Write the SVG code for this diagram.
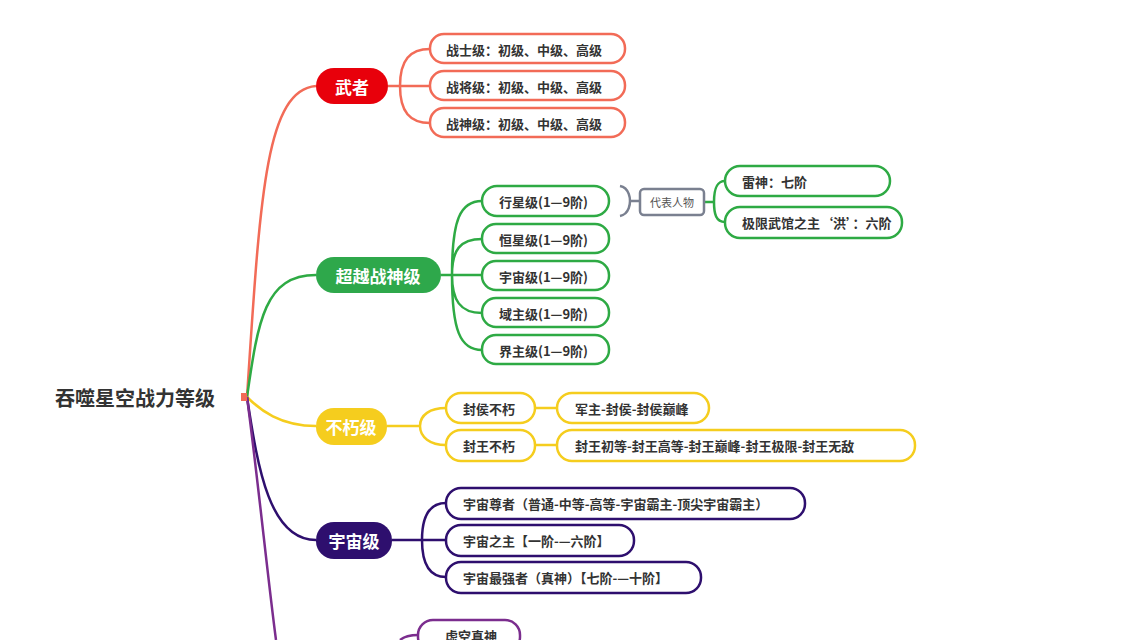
<svg xmlns="http://www.w3.org/2000/svg" width="1138" height="640" viewBox="0 0 1138 640">
<style>
text{font-family:"Noto Sans CJK SC","Liberation Sans",sans-serif;dominant-baseline:central}
.m{font-size:17px;font-weight:bold;fill:#fff;text-anchor:middle}
.c{font-size:13px;font-weight:bold;fill:#333}
.l{fill:#fff;stroke-width:2.5}
.r{stroke:#f26b57}.g{stroke:#2eaa44}.y{stroke:#f5cd1e}.p{stroke:#2e0f6e}.v{stroke:#7b2d8e}
#conn path{fill:none;stroke-width:2.5}
</style>
<rect width="1138" height="640" fill="#fff"/>
<g id="conn">
<path d="M247 397 C260 200,265 90,316 86" stroke="#f26b57" stroke-width="4"/>
<path d="M247 397 C258 320,265 275,316 275" stroke="#2eaa44" stroke-width="3.5"/>
<path d="M247 397 C260 410,280 426,316 426" stroke="#f5cd1e" stroke-width="3.5"/>
<path d="M247 397 C258 470,270 540,316 540" stroke="#2e0f6e" stroke-width="3.5"/>
<path d="M247 397 C258 480,268 580,276 640" stroke="#7b2d8e" stroke-width="4"/>
<path d="M388 86 H400 M400 86 C400 60,410 49,430 49 M400 86 H430 M400 86 C400 112,410 123,430 123" class="r"/>
<path d="M441 275 H452 M452 275 C452 220,460 201,482 201 M452 275 C452 250,460 239,482 239 M452 275 H482 M452 275 C452 300,460 313,482 313 M452 275 C452 330,460 350,482 350" class="g"/>
<path d="M620 186 C630 188,630 200,630 201 C630 202,630 214,620 216 M630 201 H640" stroke="#7a8090" stroke-width="1.5"/>
<path d="M704 202 H714 M714 202 C714 190,716 181,725 181 M714 202 C714 214,716 222,725 222" class="g"/>
<path d="M387 426 H420 M420 426 C420 415,430 408,446 408 M420 426 C420 437,430 445,446 445 M535 408 H557 M535 445 H557" class="y"/>
<path d="M392 540 H422 M422 540 C422 515,430 503,446 503 M422 540 H446 M422 540 C422 565,430 577,446 577" class="p"/>
<path d="M400 640 C405 636,410 635,418 635" class="v"/>
</g>
<g id="root"><text x="55" y="397" font-size="20" font-weight="bold" fill="#333">吞噬星空战力等级</text><rect x="241" y="393" width="6" height="8" fill="#f26b57"/></g>
<g id="n1"><rect x="316" y="68" width="72" height="36" rx="18" fill="#e8000b"/><text class="m" x="352" y="86">武者</text></g>
<g id="n1a"><rect class="l r" x="430" y="34" width="195" height="29" rx="14"/><text class="c" x="446" y="49">战士级：初级、中级、高级</text></g>
<g id="n1b"><rect class="l r" x="430" y="71" width="195" height="29" rx="14"/><text class="c" x="446" y="86">战将级：初级、中级、高级</text></g>
<g id="n1c"><rect class="l r" x="430" y="108" width="195" height="29" rx="14"/><text class="c" x="446" y="123">战神级：初级、中级、高级</text></g>
<g id="n2"><rect x="316" y="257" width="125" height="36" rx="18" fill="#2ea84b"/><text class="m" x="378" y="275">超越战神级</text></g>
<g id="n2a"><rect class="l g" x="482" y="186" width="127" height="30" rx="15"/><text class="c" x="499" y="201">行星级(1—9阶)</text></g>
<g id="n2b"><rect class="l g" x="482" y="224" width="127" height="29" rx="14"/><text class="c" x="499" y="239">恒星级(1—9阶)</text></g>
<g id="n2c"><rect class="l g" x="482" y="261" width="127" height="29" rx="14"/><text class="c" x="499" y="276">宇宙级(1—9阶)</text></g>
<g id="n2d"><rect class="l g" x="482" y="298" width="127" height="29" rx="14"/><text class="c" x="499" y="313">域主级(1—9阶)</text></g>
<g id="n2e"><rect class="l g" x="482" y="335" width="127" height="29" rx="14"/><text class="c" x="499" y="350">界主级(1—9阶)</text></g>
<g id="rep"><rect x="640" y="189" width="64" height="26" rx="4" fill="#fff" stroke="#7a8090" stroke-width="2.5"/><text x="672" y="202" font-size="11" fill="#555" text-anchor="middle">代表人物</text></g>
<g id="rep1"><rect class="l g" x="725" y="166" width="165" height="30" rx="15"/><text class="c" x="742" y="181">雷神：七阶</text></g>
<g id="rep2"><rect class="l g" x="725" y="207" width="177" height="31" rx="15"/><text class="c" x="742" y="222">极限武馆之主‘洪’：六阶</text></g>
<g id="n3"><rect x="316" y="408" width="71" height="37" rx="18" fill="#f5cd1e"/><text class="m" x="351" y="426">不朽级</text></g>
<g id="n3a"><rect class="l y" x="446" y="393" width="89" height="30" rx="15"/><text class="c" x="463" y="408">封侯不朽</text></g>
<g id="n3b"><rect class="l y" x="446" y="430" width="89" height="31" rx="15"/><text class="c" x="463" y="445">封王不朽</text></g>
<g id="n3c"><rect class="l y" x="557" y="393" width="152" height="30" rx="15"/><text class="c" x="575" y="408">军主-封侯-封侯巅峰</text></g>
<g id="n3d"><rect class="l y" x="557" y="430" width="358" height="31" rx="15"/><text class="c" x="575" y="445">封王初等-封王高等-封王巅峰-封王极限-封王无敌</text></g>
<g id="n4"><rect x="316" y="522" width="76" height="37" rx="18" fill="#2e0f6e"/><text class="m" x="354" y="540">宇宙级</text></g>
<g id="n4a"><rect class="l p" x="446" y="488" width="359" height="31" rx="15"/><text class="c" x="463" y="503">宇宙尊者（普通-中等-高等-宇宙霸主-顶尖宇宙霸主）</text></g>
<g id="n4b"><rect class="l p" x="446" y="525" width="188" height="31" rx="15"/><text class="c" x="463" y="540">宇宙之主【一阶-—六阶】</text></g>
<g id="n4c"><rect class="l p" x="446" y="562" width="255" height="31" rx="15"/><text class="c" x="463" y="577">宇宙最强者（真神）【七阶-—十阶】</text></g>
<g id="n5"><rect class="l v" x="418" y="620" width="102" height="32" rx="15"/><text class="c" x="445" y="635">虚空真神</text></g>
</svg>
